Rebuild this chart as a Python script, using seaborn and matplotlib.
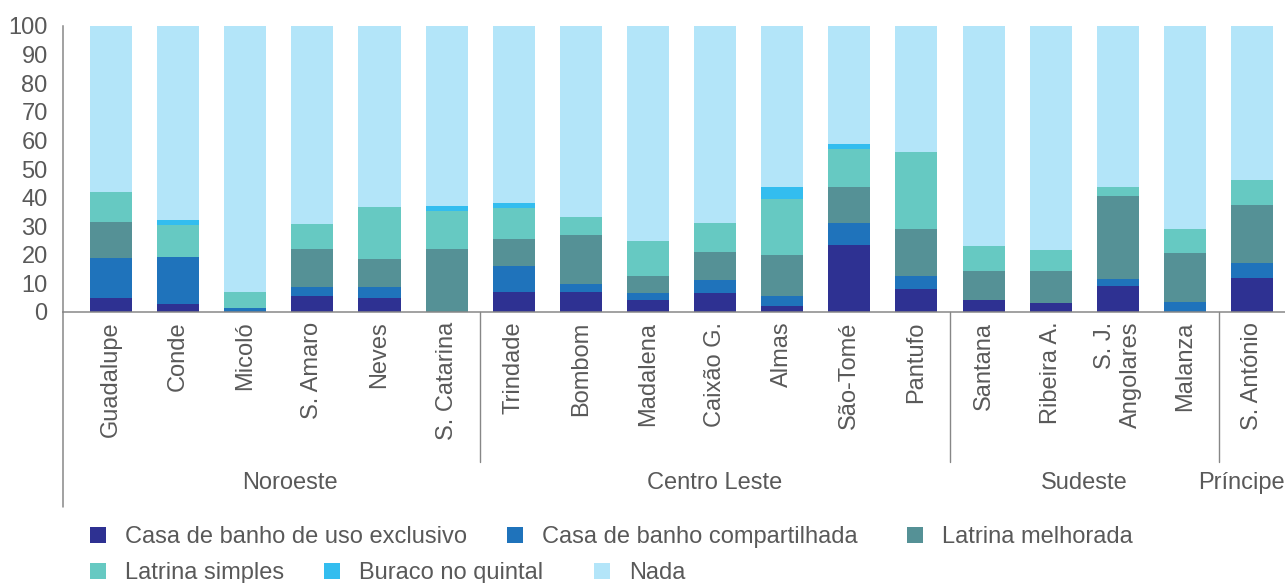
import numpy as np
import seaborn as sns
import matplotlib
matplotlib.use("Agg")
import matplotlib.pyplot as plt
from matplotlib.patches import Patch

# ---------------- data ----------------
categories = ["Guadalupe", "Conde", "Micoló", "S. Amaro", "Neves", "S. Catarina",
              "Trindade", "Bombom", "Madalena", "Caixão G.", "Almas", "São-Tomé", "Pantufo",
              "Santana", "Ribeira A.", "S. J.\nAngolares", "Malanza", "S. António"]
region_names = ["Noroeste", "Centro Leste", "Sudeste", "Príncipe"]
region_sizes = [6, 7, 4, 1]

series_names = ["Casa de banho de uso exclusivo", "Casa de banho compartilhada",
                "Latrina melhorada", "Latrina simples", "Buraco no quintal", "Nada"]

casa_exclusivo   = [4.9, 2.8, 0.0, 5.6, 4.9, 0.0, 7.0, 7.0, 4.2, 6.6, 2.1, 23.4, 8.0, 4.2, 3.1, 9.1, 0.0, 11.9]
casa_compart     = [14.0, 16.4, 1.4, 3.1, 3.8, 0.0, 9.1, 2.8, 2.4, 4.6, 3.5, 7.7, 4.6, 0.0, 0.0, 2.4, 3.5, 5.2]
latrina_melhor   = [12.6, 0.0, 0.0, 13.3, 9.8, 22.0, 9.4, 17.1, 6.0, 9.8, 14.3, 12.6, 16.4, 10.1, 11.2, 29.1, 17.1, 20.3]
latrina_simples  = [10.5, 11.2, 5.6, 8.8, 18.2, 13.3, 10.9, 6.3, 12.2, 10.1, 19.6, 13.3, 26.9, 8.8, 7.4, 3.1, 8.4, 8.8]
buraco_quintal   = [0.0, 1.8, 0.0, 0.0, 0.0, 1.8, 1.7, 0.0, 0.0, 0.0, 4.2, 1.7, 0.0, 0.0, 0.0, 0.0, 0.0, 0.0]
nada             = [58.0, 67.8, 93.0, 69.2, 63.6, 62.9, 61.9, 66.8, 75.2, 68.9, 56.3, 41.6, 44.1, 76.9, 78.3, 56.3, 71.0, 53.8]

y_ticks = [0, 10, 20, 30, 40, 50, 60, 70, 80, 90, 100]

colors = ["#2E3192", "#1F73BB", "#559196", "#66C9C2", "#33BDEF", "#B3E5F9"]

# ---------------- style ----------------
sns.set_style("white")
plt.rcParams["font.family"] = ["Liberation Sans", "DejaVu Sans"]
TXT = "#595959"
AX = "#878787"
FS = 17

W, H = 1285, 583
fig = plt.figure(figsize=(W / 100, H / 100), dpi=100)
ax_left, ax_bottom_px, ax_top_px = 63, 312, 26
ax = fig.add_axes([ax_left / W, 1 - ax_bottom_px / H, 1 - ax_left / W,
                   (ax_bottom_px - ax_top_px) / H])
ax_h_px = ax_bottom_px - ax_top_px

layers = np.array([casa_exclusivo, casa_compart, latrina_melhor,
                   latrina_simples, buraco_quintal, nada])
cum = np.cumsum(layers, axis=0)

for i in reversed(range(len(series_names))):
    sns.barplot(x=categories, y=cum[i], color=colors[i], saturation=1,
                width=0.626, errorbar=None, linewidth=0, ax=ax)

ax.set_xlim(-0.715, 17.49)
ax.set_ylim(0, 100)
ax.set_yticks(y_ticks)
ax.set_yticklabels([str(t) for t in y_ticks], fontsize=FS, color=TXT)
ax.set_xticks(range(len(categories)))
ax.set_xticklabels(categories, rotation=90, fontsize=FS, color=TXT,
                   ha="center", va="top", multialignment="right")
ax.tick_params(axis="x", length=0, pad=7)
ax.tick_params(axis="y", length=0, pad=11)
ax.set_xlabel("")
ax.set_ylabel("")

for s in ["top", "right"]:
    ax.spines[s].set_visible(False)
for s in ["left", "bottom"]:
    ax.spines[s].set_color(AX)
    ax.spines[s].set_linewidth(1.1)

# extend the y spine downwards through the group-label area
spine_bottom = -(507 - ax_bottom_px) / ax_h_px
ax.plot([0, 0], [0, spine_bottom], transform=ax.transAxes, color=AX,
        lw=1.1, clip_on=False)

# group separators and labels
sep_bottom = -(462 - ax_bottom_px) / ax_h_px
label_y = -(483 - ax_bottom_px) / ax_h_px
trans = ax.get_xaxis_transform()
start = 0
for k, (name, size) in enumerate(zip(region_names, region_sizes)):
    end = start + size
    if k < len(region_names) - 1:
        ax.plot([end - 0.5, end - 0.5], [0, sep_bottom], transform=trans,
                color=AX, lw=1.0, clip_on=False)
    center = (start + end - 1) / 2
    if k == len(region_names) - 1:
        ax.text(17.49, label_y, name, transform=trans, ha="right", va="center",
                fontsize=FS, color=TXT, clip_on=False)
    elif k == 0:
        ax.text(center + 0.17, label_y, name, transform=trans, ha="center",
                va="center", fontsize=FS, color=TXT, clip_on=False)
    else:
        ax.text(center, label_y, name, transform=trans, ha="center",
                va="center", fontsize=FS, color=TXT, clip_on=False)
    start = end

# legend: flow layout, each entry placed individually
legend_pos = [(90, 537), (507, 537), (907, 537), (90, 573), (324, 573), (594, 573)]
for i, name in enumerate(series_names):
    x, y = legend_pos[i]
    fig.legend(handles=[Patch(facecolor=colors[i], edgecolor="none")], labels=[name],
               loc="center left", bbox_to_anchor=(x / W, 1 - y / H),
               frameon=False, fontsize=FS, labelcolor=TXT,
               handlelength=0.68, handleheight=0.68, handletextpad=0.8,
               borderpad=0, borderaxespad=0)

fig.savefig("out.png", dpi=100)
